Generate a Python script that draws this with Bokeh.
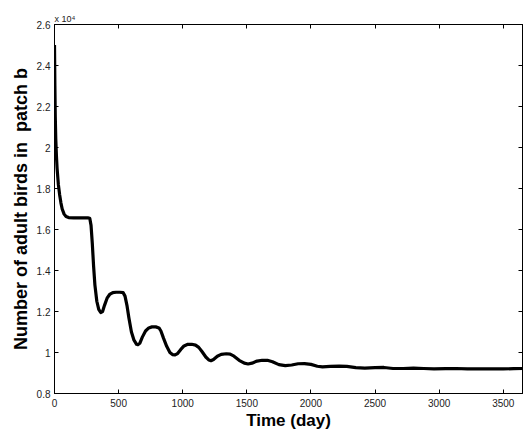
from bokeh.plotting import figure
from bokeh.models import LinearAxis, FixedTicker, CustomJSTickFormatter, Range1d
from bokeh.embed import file_html
from bokeh.resources import INLINE

# Time in days, adult birds in patch b (units of 10^4)
time_day = [0, 3, 6, 10, 15, 20, 30, 40, 50, 60, 75, 90, 110, 150, 200, 260,
            275, 285, 295, 305, 315, 330, 345, 360, 375, 390, 410, 430, 455, 480,
            510, 535, 550, 565, 580, 600, 620, 640, 650, 665, 685, 710, 735, 760,
            790, 815, 830, 850, 875, 900, 920, 940, 960, 985, 1010, 1040, 1070,
            1100, 1125, 1150, 1180, 1205, 1220, 1240, 1270, 1300, 1340, 1370, 1400,
            1440, 1480, 1510, 1540, 1580, 1620, 1660, 1700, 1750, 1800, 1850, 1900,
            1950, 2000, 2050, 2090, 2150, 2220, 2280, 2350, 2420, 2500, 2570, 2640,
            2720, 2800, 2880, 2960, 3050, 3130, 3220, 3300, 3400, 3500, 3580, 3650]
birds_e4 = [2.50, 2.30, 2.15, 2.04, 1.96, 1.90, 1.82, 1.77, 1.73, 1.70, 1.675, 1.663,
            1.658, 1.657, 1.657, 1.657,
            1.655, 1.62, 1.53, 1.42, 1.33, 1.25, 1.21, 1.195, 1.20, 1.23, 1.265, 1.283,
            1.292, 1.294,
            1.294, 1.292, 1.275, 1.23, 1.17, 1.10, 1.06, 1.04, 1.038, 1.045, 1.075,
            1.105, 1.12, 1.125,
            1.125, 1.120, 1.105, 1.07, 1.03, 1.00, 0.99, 0.988, 0.995, 1.015, 1.032,
            1.04, 1.040,
            1.036, 1.025, 1.005, 0.978, 0.963, 0.960, 0.966, 0.982, 0.991, 0.994,
            0.992, 0.982,
            0.962, 0.948, 0.944, 0.948, 0.958, 0.962, 0.962, 0.955, 0.941, 0.936,
            0.939, 0.945,
            0.946, 0.942, 0.933, 0.930, 0.932, 0.934, 0.932, 0.926, 0.924, 0.926,
            0.927, 0.922,
            0.922, 0.924, 0.922, 0.920, 0.921, 0.922, 0.920, 0.920, 0.920, 0.920,
            0.921, 0.922]

x_ticks = [0, 500, 1000, 1500, 2000, 2500, 3000, 3500]
y_ticks = [0.8, 1.0, 1.2, 1.4, 1.6, 1.8, 2.0, 2.2, 2.4, 2.6]
x_label = "Time (day)"
y_label = "Number of adult birds in \u00a0patch b"
scale_text = "x 10\u2074"

FONT = "Liberation Sans"

p = figure(width=524, height=432, output_backend="svg", toolbar_location=None,
           x_range=Range1d(0, 3650), y_range=Range1d(0.8, 2.6),
           min_border_left=54, min_border_right=2, min_border_top=24,
           min_border_bottom=38, x_axis_label=x_label, y_axis_label=y_label,
           title=scale_text)
p.grid.visible = False
p.outline_line_color = "black"
p.outline_line_width = 1
p.background_fill_color = "white"
p.border_fill_color = "white"

p.title.align = "left"
p.title.text_font = FONT
p.title.text_font_size = "9px"
p.title.text_font_style = "normal"
p.title.text_color = "#222222"
p.title.standoff = 1
p.title.offset = 0

fmt = CustomJSTickFormatter(code="return String(Math.round(tick*10)/10);")
blank = CustomJSTickFormatter(code="return '';")

for ax in p.xaxis + p.yaxis:
    ax.major_tick_in = 4
    ax.major_tick_out = 0
    ax.minor_tick_line_color = None
    ax.axis_line_color = "black"
    ax.major_tick_line_color = "black"
    ax.major_label_text_font = FONT
    ax.major_label_text_font_size = "10px"
    ax.major_label_text_color = "#222222"
    ax.axis_label_text_font = FONT
    ax.axis_label_text_font_style = "bold"
    ax.axis_label_text_color = "black"

p.xaxis.axis_label_text_font_size = "17px"
p.yaxis.axis_label_text_font_size = "18px"
p.xaxis.ticker = FixedTicker(ticks=x_ticks)
p.yaxis.ticker = FixedTicker(ticks=y_ticks)
p.yaxis.formatter = fmt
p.xaxis.major_label_standoff = 5
p.xaxis.axis_label_standoff = 1
p.yaxis.major_label_standoff = 4
p.yaxis.axis_label_standoff = 3

# mirrored ticks on top and right (box style)
top = LinearAxis(ticker=FixedTicker(ticks=x_ticks), formatter=blank,
                 major_tick_in=4, major_tick_out=0, minor_tick_line_color=None,
                 axis_line_color="black", major_label_standoff=0)
right = LinearAxis(ticker=FixedTicker(ticks=y_ticks), formatter=blank,
                   major_tick_in=4, major_tick_out=0, minor_tick_line_color=None,
                   axis_line_color="black", major_label_standoff=0)
p.add_layout(top, "above")
p.add_layout(right, "right")

p.line(time_day, birds_e4, line_color="black", line_width=3.2, line_join="round")

open("out.html", "w").write(file_html(p, INLINE))
